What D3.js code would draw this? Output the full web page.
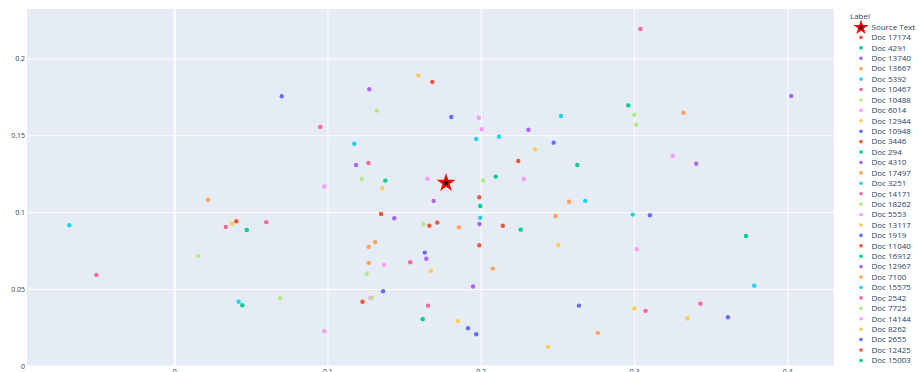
<!DOCTYPE html>
<html>
<head>
<meta charset="utf-8">
<script src="https://cdn.jsdelivr.net/npm/d3@7"></script>
<style>
  html, body { margin: 0; padding: 0; background: #fff; }
  svg { display: block; font-family: "Open Sans", sans-serif; }
</style>
</head>
<body>
<svg id="chart" width="919" height="372"></svg>
<script>
// Axis ticks
const xTicks = [0, 0.1, 0.2, 0.3, 0.4];
const yTicks = [0, 0.05, 0.1, 0.15, 0.2];
const xDomain = [-0.096, 0.4305];
const yDomain = [-0.0007, 0.2321];

// Source text embedding position
const sourceName = "Source Text";
const sourceX = [0.1774];
const sourceY = [0.1190];

// Documents (legend order)
const docNames = [
  "Doc 17174", "Doc 4291", "Doc 13740", "Doc 13667", "Doc 5392", "Doc 10467",
  "Doc 10488", "Doc 6014", "Doc 12944", "Doc 10948", "Doc 3446", "Doc 294",
  "Doc 4310", "Doc 17497", "Doc 3251", "Doc 14171", "Doc 18262", "Doc 5553",
  "Doc 13117", "Doc 1919", "Doc 11040", "Doc 16912", "Doc 12967", "Doc 7100",
  "Doc 15575", "Doc 2542", "Doc 7725", "Doc 14144", "Doc 8262", "Doc 2655",
  "Doc 12425", "Doc 15003"
];

const docX = [
  [0.0406, 0.1684, 0.2245],          // 17174
  [0.0474, 0.0445, 0.1378],          // 4291
  [0.1273, 0.2311, 0.1187, 0.1693],  // 13740
  [0.0221, 0.1858, 0.2488, 0.1311],  // 13667
  [-0.0684, 0.0421, 0.1175, 0.1971], // 5392
  [-0.0508, 0.0337, 0.0601, 0.0953], // 10467
  [0.0158, 0.0692, 0.1322, 0.1224],  // 10488
  [0.0980, 0.0980, 0.1369, 0.1281],  // 6014
  [0.0378, 0.1358, 0.1593, 0.2354],  // 12944
  [0.0702, 0.1808, 0.2476, 0.1363],  // 10948
  [0.1991, 0.1350, 0.1665],          // 3446
  [0.2098, 0.1997, 0.2261],          // 294
  [0.1992, 0.1436, 0.1645],          // 4310
  [0.1269, 0.1269, 0.2078],          // 17497
  [0.2119, 0.2524, 0.1997],          // 3251
  [0.1267, 0.1540, 0.1656],          // 14171
  [0.2016, 0.1256, 0.1291],          // 18262
  [0.1987, 0.2007, 0.1652],          // 5553
  [0.2506, 0.1676, 0.1850],          // 13117
  [0.1635, 0.1917, 0.1971],          // 1919
  [0.1717, 0.2144],                  // 11040
  [0.1622, 0.2630],                  // 16912
  [0.1950, 0.4026, 0.3406],          // 12967
  [0.2576, 0.3323, 0.2764],          // 7100
  [0.2682, 0.2992, 0.3785],          // 15575
  [0.3042, 0.3433, 0.3076],          // 2542
  [0.1626, 0.3002, 0.3015],          // 7725
  [0.2281, 0.3252, 0.3018],          // 14144
  [0.2439, 0.3002, 0.3348],          // 8262
  [0.2641, 0.3104, 0.3613],          // 2655
  [0.1991, 0.1229],                  // 12425
  [0.2963, 0.3731]                   // 15003
];

const docY = [
  [0.0941, 0.1847, 0.1333],
  [0.0884, 0.0395, 0.1205],
  [0.1799, 0.1536, 0.1307, 0.1073],
  [0.1081, 0.0902, 0.0975, 0.0805],
  [0.0915, 0.0418, 0.1445, 0.1476],
  [0.0592, 0.0904, 0.0935, 0.1554],
  [0.0715, 0.0440, 0.1660, 0.1216],
  [0.1166, 0.0226, 0.0659, 0.0443],
  [0.0925, 0.1155, 0.1888, 0.1409],
  [0.1754, 0.1619, 0.1452, 0.0486],
  [0.1097, 0.0988, 0.0912],
  [0.1231, 0.1040, 0.0886],
  [0.0923, 0.0960, 0.0697],
  [0.0774, 0.0670, 0.0633],
  [0.1491, 0.1625, 0.0964],
  [0.1320, 0.0674, 0.0392],
  [0.1206, 0.0600, 0.0444],
  [0.1614, 0.1539, 0.1217],
  [0.0787, 0.0618, 0.0291],
  [0.0737, 0.0245, 0.0206],
  [0.0932, 0.0912],
  [0.0304, 0.1307],
  [0.0516, 0.1756, 0.1315],
  [0.1068, 0.1647, 0.0215],
  [0.1073, 0.0984, 0.0522],
  [0.2191, 0.0405, 0.0358],
  [0.0923, 0.1634, 0.1569],
  [0.1216, 0.1367, 0.0759],
  [0.0124, 0.0373, 0.0308],
  [0.0392, 0.0980, 0.0317],
  [0.0785, 0.0417],
  [0.1694, 0.0845]
];

const colorway = ["#636efa", "#EF553B", "#00cc96", "#ab63fa", "#FFA15A",
                  "#19d3f3", "#FF6692", "#B6E880", "#FF97FF", "#FECB52"];

const svg = d3.select("#chart");
const plot = { left: 27, top: 9, right: 834, bottom: 367 };
const textColor = "#2a3f5f";

const x = d3.scaleLinear().domain(xDomain).range([plot.left, plot.right]);
const y = d3.scaleLinear().domain(yDomain).range([plot.bottom, plot.top]);

// Plot background
svg.append("rect")
  .attr("x", plot.left).attr("y", plot.top)
  .attr("width", plot.right - plot.left).attr("height", plot.bottom - plot.top)
  .attr("fill", "#E5ECF6");

// Grid lines via axes
const xGrid = d3.axisBottom(x).tickValues(xTicks).tickSize(-(plot.bottom - plot.top)).tickFormat("");
const yGrid = d3.axisLeft(y).tickValues(yTicks).tickSize(-(plot.right - plot.left)).tickFormat("");

const gx = svg.append("g").attr("transform", `translate(0,${plot.bottom})`).call(xGrid);
gx.select(".domain").remove();
gx.selectAll("line").attr("stroke", "#fff").attr("stroke-width", d => d === 0 ? 2 : 1);

const gy = svg.append("g").attr("transform", `translate(${plot.left},0)`).call(yGrid);
gy.select(".domain").remove();
gy.selectAll("line").attr("stroke", "#fff").attr("stroke-width", d => d === 0 ? 2 : 1);

// Tick labels
const fmt = d => d === 0 ? "0" : String(d);
const xAxis = d3.axisBottom(x).tickValues(xTicks).tickSize(0).tickPadding(0).tickFormat(fmt);
const ax = svg.append("g").attr("transform", `translate(0,${plot.bottom})`).call(xAxis);
ax.select(".domain").remove();
ax.selectAll("text").attr("fill", textColor).attr("font-size", 7)
  .attr("font-family", '"Open Sans", sans-serif').attr("y", 6.5).attr("dy", 0);

const yAxis = d3.axisLeft(y).tickValues(yTicks).tickSize(0).tickPadding(2).tickFormat(fmt);
const ay = svg.append("g").attr("transform", `translate(${plot.left},0)`).call(yAxis);
ay.select(".domain").remove();
ay.selectAll("text").attr("fill", textColor).attr("font-size", 7)
  .attr("font-family", '"Open Sans", sans-serif');

// Markers
svg.append("clipPath").attr("id", "plotclip").append("rect")
  .attr("x", plot.left).attr("y", plot.top)
  .attr("width", plot.right - plot.left).attr("height", plot.bottom - plot.top);
const marks = svg.append("g").attr("clip-path", "url(#plotclip)");

const star = d3.symbol().type(d3.symbolStar);

marks.selectAll(".src").data(sourceX.map((v, i) => [v, sourceY[i]]))
  .join("path").attr("class", "src")
  .attr("d", star.size(50)())
  .attr("transform", d => `translate(${x(d[0])},${y(d[1])})`)
  .attr("fill", "#000").attr("stroke", "#ff0000").attr("stroke-width", 2)
  .attr("stroke-linejoin", "miter");

docNames.forEach((name, i) => {
  const color = colorway[(i + 1) % colorway.length];
  const pts = docX[i].map((v, j) => [v, docY[i][j]]);
  marks.append("g").selectAll("circle").data(pts).join("circle")
    .attr("cx", d => x(d[0])).attr("cy", d => y(d[1]))
    .attr("r", 2.2).attr("fill", color);
});

// Legend
const legend = svg.append("g").attr("transform", "translate(850,0)");
legend.append("text").attr("x", 0).attr("y", 19).text("Label")
  .attr("fill", textColor).attr("font-size", 8);

const rowY = i => 27 + i * 10.42;
const entries = [{ name: sourceName, src: true }].concat(
  docNames.map((n, i) => ({ name: n, color: colorway[(i + 1) % colorway.length] })));

const rows = legend.selectAll(".row").data(entries).join("g")
  .attr("class", "row")
  .attr("transform", (d, i) => `translate(0,${rowY(i)})`);

rows.each(function (d) {
  const g = d3.select(this);
  if (d.src) {
    g.append("path").attr("d", star.size(32)())
      .attr("transform", "translate(11,0.5)")
      .attr("fill", "#000").attr("stroke", "#ff0000").attr("stroke-width", 1.6);
  } else {
    g.append("circle").attr("cx", 11).attr("cy", 0).attr("r", 1.8).attr("fill", d.color);
  }
  g.append("text").attr("x", 21.5).attr("y", 0).attr("dy", "0.35em")
    .attr("fill", textColor).attr("font-size", 8).text(d.name);
});
</script>
</body>
</html>
